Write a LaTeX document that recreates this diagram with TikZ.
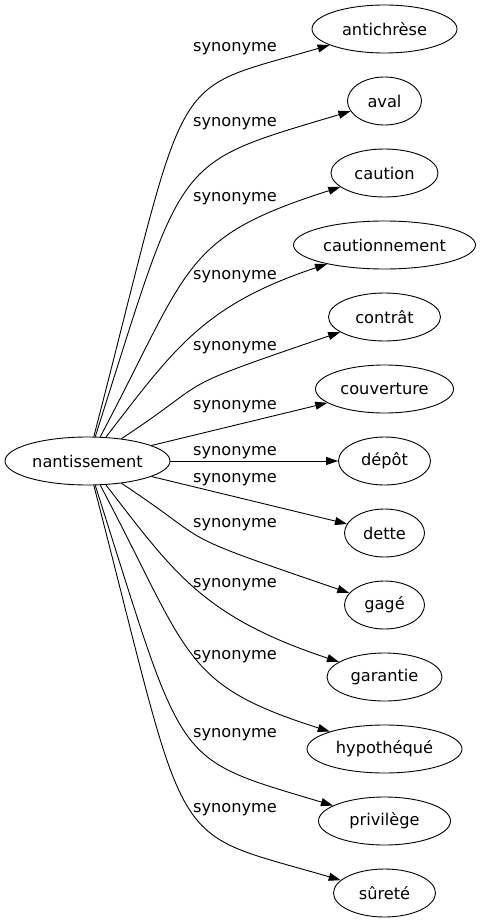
\documentclass[tikz,border=0pt]{standalone}
\usepackage{fontspec}
\setmainfont{DejaVu Sans}
\usetikzlibrary{arrows.meta,shapes.geometric}

\begin{document}
\begin{tikzpicture}[
    x=1pt, y=-1pt, line width=0.9pt,
    word/.style={draw, ellipse, inner sep=0pt, minimum height=48pt, font=\fontsize{16.2}{19}\selectfont},
    rel/.style={inner sep=0pt, font=\fontsize{16.2}{19}\selectfont},
    >={Triangle[length=12pt,width=8pt]}
]
\useasboundingbox (0,0) rectangle (480,923);
\node[word, minimum width=165pt] (nan) at (87.5,461) {nantissement};
\node[word, minimum width=145pt] (anti) at (384.5,29) {antichrèse};
\node[word, minimum width=74pt] (aval) at (384.5,101) {aval};
\node[word, minimum width=107pt] (caut) at (384.5,173) {caution};
\node[word, minimum width=182pt] (cautm) at (384.5,245) {cautionnement};
\node[word, minimum width=112pt] (contr) at (384.5,317) {contrât};
\node[word, minimum width=138pt] (couv) at (384.5,389) {couverture};
\node[word, minimum width=92pt] (depot) at (384.5,461) {dépôt};
\node[word, minimum width=80pt] (dette) at (384.5,533) {dette};
\node[word, minimum width=80pt] (gage) at (384.5,605) {gagé};
\node[word, minimum width=115pt] (gar) at (384.5,677) {garantie};
\node[word, minimum width=155pt] (hypo) at (384.5,749) {hypothéqué};
\node[word, minimum width=132pt] (priv) at (384.5,821) {privilège};
\node[word, minimum width=102pt] (sur) at (384.5,893) {sûreté};

% labels
\node[rel] (l1) at (235,49) {synonyme};
\node[rel] (l2) at (235,124) {synonyme};
\node[rel] (l3) at (235,199) {synonyme};
\node[rel] (l4) at (235,277) {synonyme};
\node[rel] (l5) at (235,348) {synonyme};
\node[rel] (l6) at (235,407) {synonyme};
\node[rel] (l7) at (235,453) {synonyme};
\node[rel] (l8) at (235,480) {synonyme};
\node[rel] (l9) at (235,525) {synonyme};
\node[rel] (l10) at (235,585) {synonyme};
\node[rel] (l11) at (235,657) {synonyme};
\node[rel] (l12) at (235,735) {synonyme};
\node[rel] (l13) at (235,810) {synonyme};

\draw[->] (nan) .. controls (191.5,59.6) and (163.7,93.7) .. (anti);
\draw[->] (nan) .. controls (185.9,152.1) and (170.4,165.2) .. (aval);
\draw[->] (nan) .. controls (190.9,265.2) and (181.4,237.6) .. (caut);
\draw[->] (nan) .. controls (173.8,349.2) and (203.2,305.1) .. (cautm);
\draw[->] (nan) .. controls (218.6,374.8) and (163.4,392.5) .. (contr);
\draw[->] (nan) -- (couv);
\draw[->] (nan) -- (depot);
\draw[->] (nan) -- (dette);
\draw[->] (nan) .. controls (218.6,547.2) and (163.4,529.5) .. (gage);
\draw[->] (nan) .. controls (173.8,572.8) and (203.2,616.9) .. (gar);
\draw[->] (nan) .. controls (190.9,656.8) and (181.4,684.4) .. (hypo);
\draw[->] (nan) .. controls (185.9,769.9) and (170.4,756.8) .. (priv);
\draw[->] (nan) .. controls (191.5,862.4) and (163.7,828.3) .. (sur);
\end{tikzpicture}
\end{document}
